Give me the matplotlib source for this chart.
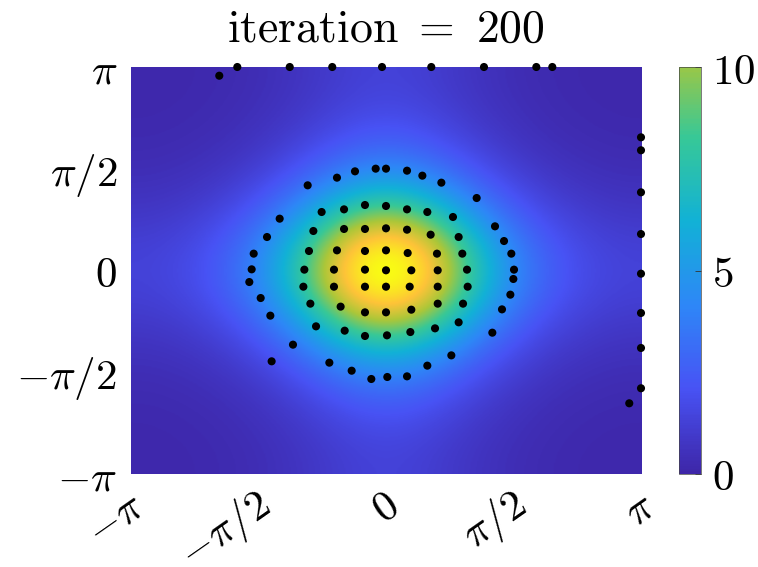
import numpy as np
import matplotlib
matplotlib.use('Agg')
import matplotlib.pyplot as plt
import matplotlib.transforms as mtransforms
from matplotlib.colors import LinearSegmentedColormap, ListedColormap, Normalize

plt.rcParams['mathtext.fontset'] = 'cm'

# field: peak height and concentration of the periodic bump
peak = 14.5
kappa = 1.2

# particles on the y = pi edge
top_x = [-2.054, -1.832, -1.186, -0.662, -0.049, 0.558, 1.207, 1.852, 2.049]
top_y = [3.007, 3.1416, 3.1416, 3.1416, 3.1416, 3.1416, 3.1416, 3.1416, 3.1416]
# particles on the x = pi edge
right_x = [3.1416, 3.1416, 3.1416, 3.1416, 3.1416, 3.1416, 3.1416, 3.1416, 2.997]
right_y = [2.056, 1.856, 1.207, 0.563, -0.049, -0.656, -1.196, -1.818, -2.050]
# outer ring
outer_x = [-0.965, -0.604, -0.382, -0.127, 0.0, 0.259, 0.448, 0.682, 1.117, 1.343, 1.454,
           1.544, 1.577, 1.569, 1.532, 1.429, 1.310, 0.805, 0.509, 0.259, 0.016, -0.181,
           -0.423, -0.698, -1.409, -1.146, -1.425, -1.544, -1.684, -1.655, -1.630, -1.466, -1.310]
outer_y = [1.315, 1.433, 1.531, 1.572, 1.572, 1.541, 1.464, 1.356, 1.119, 0.682, 0.455,
           0.260, 0.013, -0.131, -0.373, -0.600, -0.960, -1.310, -1.469, -1.634, -1.644, -1.675,
           -1.547, -1.423, -1.402, -1.145, -0.697, -0.425, -0.178, 0.018, 0.260, 0.517, 0.800]
# middle ring
mid_x = [-0.793, -0.517, -0.259, 0.0, 0.259, 0.509, 0.825, 0.895, 0.940, 0.998, 1.006, 0.949,
         0.895, 0.604, 0.300, 0.012, -0.259, -0.509, -0.862, -0.932, -1.018, -1.006, -0.949, -0.895]
mid_y = [0.903, 0.944, 1.011, 0.996, 0.944, 0.903, 0.826, 0.517, 0.260, 0.013, -0.250, -0.512,
         -0.800, -0.893, -0.950, -1.001, -1.011, -0.929, -0.862, -0.512, -0.250, 0.013, 0.301, 0.610]
# inner ring
inner_x = [-0.517, -0.259, 0.0, 0.259, 0.550, 0.628, 0.637, 0.637, 0.637, 0.312, 0.0, -0.259,
           -0.559, -0.641, -0.641, -0.604]
inner_y = [0.641, 0.641, 0.651, 0.630, 0.553, 0.260, 0.003, -0.250, -0.512, -0.605, -0.646, -0.646,
           -0.558, -0.250, 0.013, 0.311]
# centre block
core_x = [-0.259, 0.0, 0.267, -0.259, 0.0, 0.312, -0.259, 0.0, 0.292]
core_y = [0.301, 0.311, 0.270, 0.013, 0.003, 0.003, -0.250, -0.250, -0.250]

xticks = [-np.pi, -np.pi/2, 0, np.pi/2, np.pi]
ticklabels = [r'$-\pi$', r'$-\pi/2$', r'$0$', r'$\pi/2$', r'$\pi$']
cbar_ticks = [0, 5, 10]

# parula-like colormap
parula_pts = [(0.2422, 0.1504, 0.6603), (0.2810, 0.3228, 0.9579), (0.1786, 0.5289, 0.9682),
              (0.0689, 0.6948, 0.8394), (0.2161, 0.7843, 0.5923), (0.6720, 0.7793, 0.2227),
              (0.9970, 0.7659, 0.2199), (0.9769, 0.9839, 0.0805)]
parula = LinearSegmentedColormap.from_list('parula', parula_pts, N=256)

g = np.linspace(-np.pi, np.pi, 400)
X, Y = np.meshgrid(g, g)
Z = peak*np.exp(kappa*(np.cos(X) + np.cos(Y) - 2))

fig = plt.figure(figsize=(7.58, 5.67), dpi=100)
ax = fig.add_axes([131/758, 1-474/567, 510/758, 407/567])
cax = fig.add_axes([679/758, 1-474/567, 22/758, 407/567])

ax.imshow(Z, extent=[-np.pi, np.pi, -np.pi, np.pi], origin='lower', cmap=parula,
          vmin=0, vmax=peak, aspect='auto', interpolation='bilinear')

px = top_x + right_x + outer_x + mid_x + inner_x + core_x
py = top_y + right_y + outer_y + mid_y + inner_y + core_y
ax.scatter(px, py, s=34, c='k', edgecolors='none', clip_on=False, zorder=3)

ax.set_xlim(-np.pi, np.pi)
ax.set_ylim(-np.pi, np.pi)
ax.set_xticks(xticks)
ax.set_xticklabels(ticklabels, fontsize=31)
ax.set_yticks(xticks)
ax.set_yticklabels(ticklabels, fontsize=31)
ax.tick_params(length=0)
ax.tick_params(axis='y', pad=10)
ax.tick_params(axis='x', pad=20)
shift = mtransforms.ScaledTranslation(9/100, 0, fig.dpi_scale_trans)
for lab in ax.get_xticklabels():
    lab.set_rotation(35)
    lab.set_ha('right')
    lab.set_va('center')
    lab.set_rotation_mode('anchor')
    lab.set_transform(lab.get_transform() + shift)
for s in ax.spines.values():
    s.set_visible(False)
ax.set_title(r'$\mathrm{iteration}\ =\ 200$', fontsize=33, pad=18)

# colorbar only shows 0..10 of the colour range
cmap_cut = ListedColormap(parula(np.linspace(0, 10/peak, 256)))
sm = plt.cm.ScalarMappable(norm=Normalize(0, 10), cmap=cmap_cut)
cb = fig.colorbar(sm, cax=cax, ticks=cbar_ticks)
cb.set_ticklabels([r'$0$', r'$5$', r'$10$'])
cb.ax.tick_params(labelsize=31, direction='in', length=4, width=0.6, color='#333333', pad=8)
cb.outline.set_linewidth(0.5)
cb.outline.set_edgecolor('#444444')

fig.savefig('out.png', dpi=100)
